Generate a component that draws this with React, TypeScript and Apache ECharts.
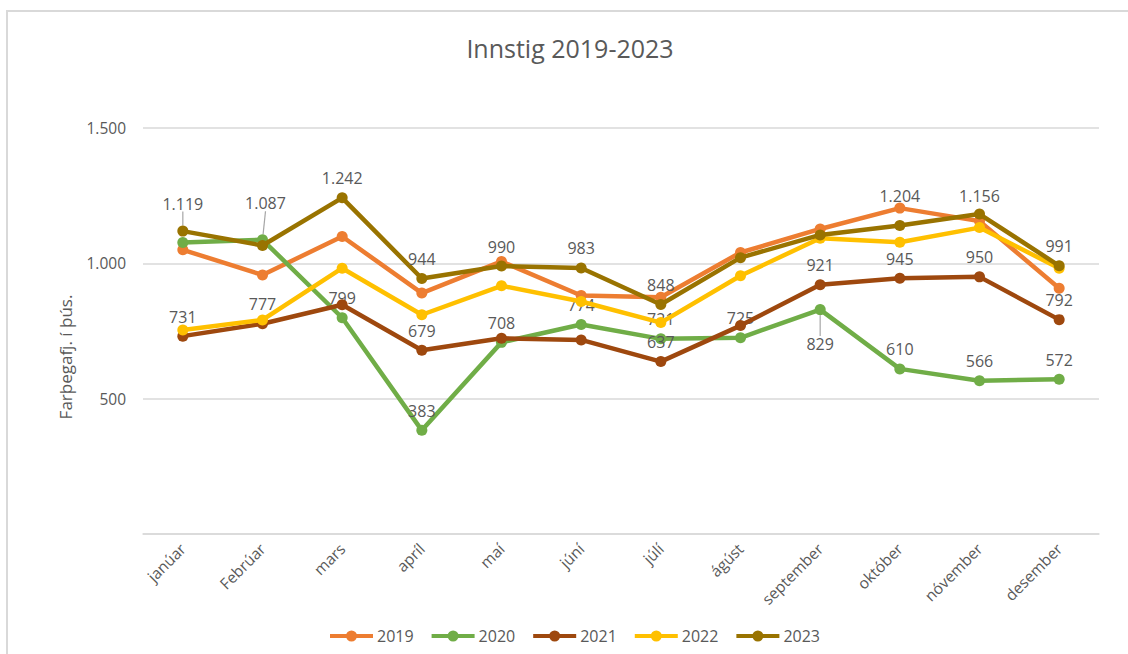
import React, { useEffect, useRef } from "react";
import * as echarts from "echarts";

const MONTHS = ["janúar", "Febrúar", "mars", "apríl", "maí", "júní", "júlí", "ágúst", "september", "október", "nóvember", "desember"];
const YEARS = ["2019", "2020", "2021", "2022", "2023"];
const Y2019 = [1050, 957, 1099, 890, 1007, 881, 875, 1040, 1127, 1204, 1156, 908];
const Y2020 = [1077, 1087, 799, 383, 708, 774, 721, 725, 829, 610, 566, 572];
const Y2021 = [731, 777, 847, 679, 723, 717, 637, 770, 921, 945, 950, 792];
const Y2022 = [754, 791, 982, 810, 917, 859, 781, 954, 1093, 1078, 1132, 982];
const Y2023 = [1119, 1066, 1242, 944, 990, 983, 848, 1021, 1105, 1140, 1182, 991];
const LABELED_2019 = [9, 10];
const LABELED_2020 = [1, 2, 3, 4, 5, 6, 7, 8, 9, 10, 11];
const LABELED_2021 = [0, 1, 3, 6, 8, 9, 10, 11];
const LABELED_2022: number[] = [];
const LABELED_2023 = [0, 2, 3, 4, 5, 6, 11];
const Y_TICKS = [0, 500, 1000, 1500];

const COLORS = ["#ED7D31", "#70AD47", "#9E480E", "#FFC000", "#997300"];
const TEXT = "#595959";
const FONT = "Open Sans";
const LEGEND_ICON = "path://M0,3.5H43V7.5H0Z M16,5.5a5.5,5.5 0 1,1 11,0a5.5,5.5 0 1,1 -11,0Z";

const fmt = (v: number) => String(v).replace(/\B(?=(\d{3})+(?!\d))/g, ".");

// label moves (series index -> data index -> shift)
const SHIFTS: Record<number, Record<number, { dx?: number; dy?: number; line?: boolean }>> = {
  0: { 9: { dy: 7 }, 10: { dy: -6 } },
  1: { 1: { dy: -17, dx: 3, line: true }, 8: { dy: 54, line: true } },
  4: { 0: { dy: -8, line: true } },
};

export default function App() {
  const ref = useRef<HTMLDivElement>(null);
  useEffect(() => {
    document.body.style.margin = "0";
    const chart = echarts.init(ref.current!, undefined, { renderer: "svg" });
    const all = [Y2019, Y2020, Y2021, Y2022, Y2023];
    const labeled = [LABELED_2019, LABELED_2020, LABELED_2021, LABELED_2022, LABELED_2023];
    const series = all.map((vals, si) => ({
      name: YEARS[si],
      type: "line",
      data: vals.map((v, i) => {
        const show = labeled[si].includes(i);
        const sh = SHIFTS[si] && SHIFTS[si][i];
        return {
          value: v,
          label: { show },
          labelLine: { show: !!(sh && sh.line), lineStyle: { color: "#A6A6A6", width: 1.2 } },
        };
      }),
      symbol: "circle",
      symbolSize: 11,
      lineStyle: { width: 4.5, color: COLORS[si] },
      itemStyle: { color: COLORS[si] },
      z: 2 + si,
      label: {
        position: "top",
        distance: 6,
        color: TEXT,
        fontFamily: FONT,
        fontSize: 16,
        formatter: (p: any) => fmt(p.value),
      },
      labelLayout: (p: any) => {
        const sh = SHIFTS[si] && SHIFTS[si][p.dataIndex];
        return sh ? { dx: sh.dx || 0, dy: sh.dy || 0 } : {};
      },
      emphasis: { disabled: true },
    }));

    chart.setOption({
      animation: false,
      color: COLORS,
      title: {
        text: "Innstig 2019-2023",
        left: 565,
        top: 30,
        textAlign: "center",
        textStyle: { color: TEXT, fontFamily: FONT, fontSize: 25, fontWeight: "normal" },
      },
      grid: { left: 143, right: 29, top: 128, bottom: 120, containLabel: false },
      legend: {
        left: 325,
        top: 623,
        icon: LEGEND_ICON,
        itemWidth: 43,
        itemHeight: 11,
        itemGap: 18,
        textStyle: { color: TEXT, fontFamily: FONT, fontSize: 16, padding: [0, 0, 0, -1] },
        data: YEARS,
      },
      xAxis: {
        type: "category",
        data: MONTHS,
        boundaryGap: true,
        axisLine: { show: true, lineStyle: { color: "#D9D9D9", width: 1.5 } },
        axisTick: { show: false },
        axisLabel: { interval: 0, rotate: 45, margin: 12, color: TEXT, fontFamily: FONT, fontSize: 15.5 },
      },
      yAxis: {
        type: "value",
        min: Y_TICKS[0],
        max: Y_TICKS[Y_TICKS.length - 1],
        interval: Y_TICKS[1] - Y_TICKS[0],
        axisLine: { show: false },
        axisTick: { show: false },
        splitLine: { lineStyle: { color: "#D9D9D9", width: 1.5 } },
        axisLabel: {
          margin: 17,
          color: TEXT,
          fontFamily: FONT,
          fontSize: 15.5,
          formatter: (v: number) => (v === 0 ? "" : fmt(v)),
        },
      },
      graphic: [
        { type: "line", shape: { x1: 7, y1: 11, x2: 7, y2: 654 }, style: { stroke: "#D9D9D9", lineWidth: 2 } },
        { type: "line", shape: { x1: 6, y1: 11, x2: 1128, y2: 11 }, style: { stroke: "#D9D9D9", lineWidth: 2 } },
        {
          type: "text",
          x: 65,
          y: 357,
          rotation: Math.PI / 2,
          style: {
            text: "Farþegafj. í þús.",
            fill: TEXT,
            font: `17px "${FONT}"`,
            textAlign: "center",
            textVerticalAlign: "middle",
          },
        },
      ],
      series,
    });
    return () => chart.dispose();
  }, []);
  return <div ref={ref} style={{ width: 1128, height: 654 }} />;
}
